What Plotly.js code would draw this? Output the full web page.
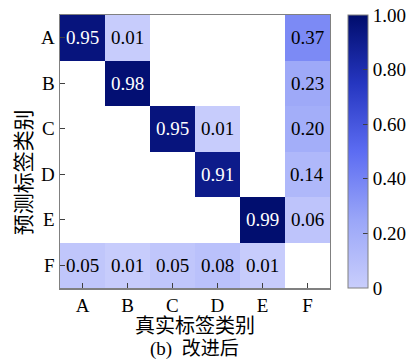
<!DOCTYPE html>
<html><head><meta charset="utf-8">
<script src="https://cdn.plot.ly/plotly-3.0.1.min.js"></script>
<style>html,body{margin:0;padding:0;background:#fff}#c{width:412px;height:361px}</style>
</head><body><div id="c"></div>
<script>
const trueLabels = ['A','B','C','D','E','F'];
const predLabels = ['A','B','C','D','E','F'];
// rows = predicted label, columns = true label; null = empty cell
const rowA = [0.95, 0.01, null, null, null, 0.37];
const rowB = [null, 0.98, null, null, null, 0.23];
const rowC = [null, null, 0.95, 0.01, null, 0.20];
const rowD = [null, null, null, 0.91, null, 0.14];
const rowE = [null, null, null, null, 0.99, 0.06];
const rowF = [0.05, 0.01, 0.05, 0.08, 0.01, null];
const matrix = [rowA, rowB, rowC, rowD, rowE, rowF];
const cbTicks = [0, 0.2, 0.4, 0.6, 0.8, 1.0];
const cbLabels = ['0','0.20','0.40','0.60','0.80','1.00'];
const xTitle = '真实标签类别';
const yTitle = '预测标签类别';
const subTitle = '(b)  改进后';

const FONT = "Liberation Serif, Times New Roman, serif";
const CJK = "Liberation Serif, Noto Sans CJK SC, serif";

const annotations = [];
matrix.forEach((row, i) => row.forEach((v, j) => {
  if (v === null) return;
  annotations.push({x: trueLabels[j], y: predLabels[i], xref:'x', yref:'y',
    text: v.toFixed(2), showarrow:false,
    font:{family:FONT, size:19, color: v > 0.5 ? '#ffffff' : '#000000'}});
}));
annotations.push({xref:'paper', yref:'paper', x:0.3878, xanchor:'center', y:-0.139, yanchor:'middle',
  text:xTitle, showarrow:false, font:{family:CJK, size:20, color:'#000'}});
annotations.push({xref:'paper', yref:'paper', x:0.3878, xanchor:'center', y:-0.2234, yanchor:'middle',
  text:subTitle, showarrow:false, font:{family:CJK, size:19, color:'#000'}});
annotations.push({xref:'paper', yref:'paper', x:-0.1023, xanchor:'center', y:0.425, yanchor:'middle',
  text:yTitle, textangle:-90, showarrow:false, font:{family:CJK, size:21, color:'#000'}});

const trace = {
  type:'heatmap', x: trueLabels, y: predLabels, z: matrix,
  zmin:0, zmax:1, hoverongaps:false,
  colorscale:[[0,'#c9cefc'],[0.25,'#9aa6f8'],[0.5,'#5c6cf2'],[0.75,'#2536c0'],[1,'#000c6c']],
  colorbar:{x:0.8267, xanchor:'left', thickness:20, len:1, lenmode:'fraction', y:0.5, yanchor:'middle',
    outlinecolor:'#808080', outlinewidth:1, ticks:'inside', ticklen:5, tickcolor:'#404040',
    tickvals:cbTicks, ticktext:cbLabels, tickfont:{family:FONT, size:19, color:'#000'}, xpad:0, ypad:0}
};

const layout = {
  width:412, height:361,
  margin:{l:60, r:0, t:15, b:73},
  paper_bgcolor:'#fff', plot_bgcolor:'#fff',
  font:{family:FONT, color:'#000'},
  xaxis:{type:'category', domain:[0, 0.7756], showline:true, mirror:true, linecolor:'#808080', linewidth:1.5,
    ticks:'inside', ticklen:5, tickcolor:'#404040', showgrid:false, zeroline:false,
    tickfont:{family:FONT, size:19}},
  yaxis:{type:'category', autorange:'reversed', showline:true, mirror:true, linecolor:'#808080', linewidth:1.5,
    ticks:'inside', ticklen:5, tickcolor:'#404040', showgrid:false, zeroline:false,
    tickfont:{family:FONT, size:19}},
  annotations: annotations
};
Plotly.newPlot('c', [trace], layout, {displayModeBar:false, staticPlot:true});
</script></body></html>
